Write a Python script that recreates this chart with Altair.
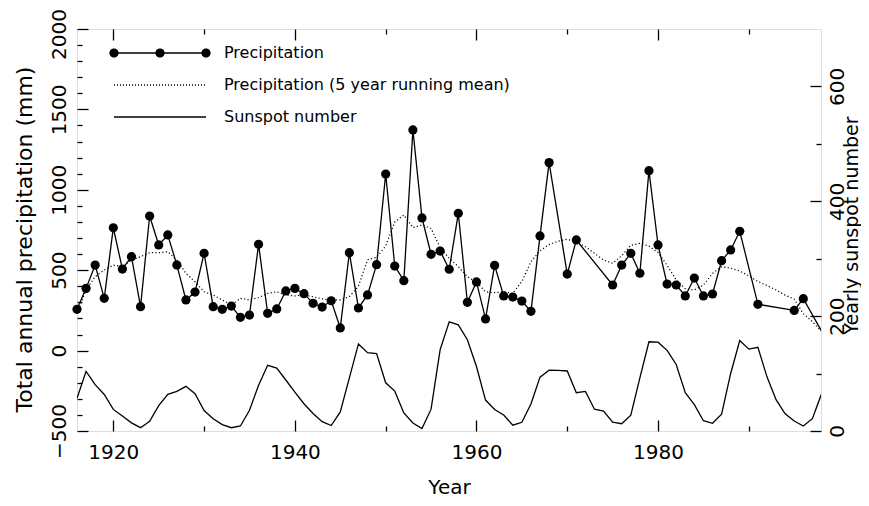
import math
import altair as alt
import pandas as pd

# ---------------- data ----------------
precip_years = list(range(1916, 1969)) + [1970, 1971] + list(range(1975, 1990)) + [1991, 1995, 1996, 1998]
precip_values = [
    257, 387, 532, 325, 764, 507, 584, 273, 837, 657,
    719, 532, 315, 364, 605, 273, 257, 277, 207, 221,
    661, 232, 259, 371, 387, 354, 294, 271, 310, 141,
    609, 265, 346, 534, 1098, 526, 435, 1372, 825, 599,
    619, 506, 854, 300, 427, 197, 530, 340, 333, 308,
    244, 713, 1169,
    476, 688,
    408, 532, 605, 481, 1119, 657, 414, 408, 340, 451, 340, 352, 559, 626, 742,
    288, 250, 323, 122,
]

mean_years = list(range(1916, 1999))
mean_values = [
    232, 377, 460, 501, 532, 522, 563, 584, 609, 609,
    615, 563, 481, 428, 366, 346, 315, 284, 325, 315,
    330, 356, 366, 345, 340, 346, 335, 322, 315, 315,
    335, 400, 565, 580, 650, 800, 843, 765, 781, 760,
    640, 574, 522, 460, 425, 366, 360, 366, 356, 430,
    553, 620, 660, 680, 692, 677, 646, 605, 563, 543,
    590, 655, 667, 650, 610, 530, 440, 385, 377, 408,
    480, 522, 512, 495, 465, 430, 405, 377, 345, 320,
    230, 180, 120,
]

sun_years = list(range(1916, 1999))
sun_values = [
    57.1, 103.9, 80.6, 63.6, 37.6, 26.1, 14.2, 5.8, 16.7, 44.3,
    63.9, 69.0, 77.8, 64.9, 35.7, 21.2, 11.1, 5.7, 8.7, 36.1,
    79.7, 114.4, 109.6, 88.8, 67.8, 47.5, 30.6, 16.3, 9.6, 33.2,
    92.6, 151.6, 136.3, 134.7, 83.9, 69.4, 31.5, 13.9, 4.4, 38.0,
    141.7, 190.2, 184.8, 159.0, 112.3, 53.9, 37.5, 27.9, 10.2, 15.1,
    47.0, 93.8, 105.9, 105.5, 104.5, 66.6, 68.9, 38.0, 34.5, 15.5,
    12.6, 27.5, 92.5, 155.4, 154.6, 140.4, 115.9, 66.6, 45.9, 17.9,
    13.4, 29.4, 100.2, 157.6, 142.6, 145.7, 94.3, 54.6, 29.9, 17.5,
    8.6, 21.5, 64.3,
]

series_names = ["Precipitation", "Precipitation (5 year running mean)", "Sunspot number"]

x_major = [1920, 1940, 1960, 1980]
x_minor = [1930, 1950, 1970, 1990]
y_left_major = [-500, 0, 500, 1000, 1500, 2000]
y_left_minor = [v for v in range(-400, 2000, 100) if v % 500 != 0]
y_right_major = [0, 200, 400, 600]
y_right_minor = [100, 300, 500]

# ---------------- tables ----------------
precip_df = pd.DataFrame({"year": precip_years, "value": precip_values})
mean_df = pd.DataFrame({"year": mean_years, "value": mean_values})
sun_df = pd.DataFrame({"year": sun_years, "value": sun_values})
legend_df = pd.DataFrame({"series": series_names})

# ---------------- styling ----------------
FONT = "DejaVu Sans"
W, H = 744, 402
LW = 1.3

xs = alt.Scale(domain=[1916, 1997.95], nice=False, zero=False)
ys_p = alt.Scale(domain=[-500, 2000], nice=False, zero=False)
ys_s = alt.Scale(domain=[0, 700], nice=False, zero=False)


def tick_axis(orient, values, size, offset):
    return alt.Axis(orient=orient, values=values, tickSize=size, offset=offset,
                    labels=False, domain=False, grid=False, title=None,
                    ticks=True, tickColor="black", tickWidth=LW)


def ring_path(cx, r, n=18):
    pts = [(cx + r * math.cos(2 * math.pi * k / n), r * math.sin(2 * math.pi * k / n)) for k in range(n)]
    return "M" + "L".join(f"{x:.3f},{y:.3f}" for x, y in pts) + "Z"


def dot_path(cx, r):
    # filled disc drawn with stroked concentric rings (legend symbols are stroked only)
    return "".join(ring_path(cx, rr) for rr in (0.05, 0.14, 0.24, 0.33, 0.40))


# legend symbol paths (unit = 10 px for symbolSize 400)
path_precip = "M-4.6,0H4.6" + "".join(dot_path(c, 0.45) for c in (-4.6, 0.0, 4.6))
path_dotted = "".join(f"M{-4.6 + 0.3 * k:.2f},0h0.1" for k in range(31))
path_solid = "M-4.6,0H4.6"

# ---------------- layers ----------------
line_p = alt.Chart(precip_df).mark_line(color="black", strokeWidth=LW, clip=True).encode(
    x=alt.X("year:Q", scale=xs, axis=alt.Axis(
        orient="bottom", values=x_major, ticks=False, tickSize=0, domain=False, grid=False,
        labelPadding=11, labelFont=FONT, labelFontSize=20, labelColor="black", format="d",
        labelAngle=0, labelFlush=False, labelOverlap=False,
        title="Year", titleFont=FONT, titleFontSize=20, titleFontWeight="normal", titleColor="black",
        titleX=372, titleY=62, titleAlign="center", titleBaseline="alphabetic")),
    y=alt.Y("value:Q", scale=ys_p, axis=alt.Axis(
        orient="left", values=y_left_major, ticks=False, tickSize=0, domain=False, grid=False,
        labelAngle=270, labelAlign="center", labelBaseline="alphabetic", labelPadding=12,
        labelOffset={"condition": {"test": "datum.value == 2000", "value": 5}, "value": 0},
        labelFont=FONT, labelFontSize=20, labelColor="black", format="d",
        labelFlush=False, labelOverlap=False,
        title="Total annual precipitation (mm)", titleFont=FONT, titleFontSize=22,
        titleFontWeight="normal", titleColor="black", titleAngle=270,
        titleX=-53, titleY=210, titleAlign="center", titleBaseline="middle")),
)

pts_p = alt.Chart(precip_df).transform_filter("datum.year <= 1997").mark_circle(
    size=85, color="black", opacity=1).encode(
    x=alt.X("year:Q", scale=xs, axis=tick_axis("top", x_major, 11, -H)),
    y=alt.Y("value:Q", scale=ys_p, axis=tick_axis("right", y_left_major, 11, -W)),
)

dotted = alt.Chart(mean_df).mark_line(color="black", strokeWidth=1.2, strokeDash=[1.2, 2.3], clip=True).encode(
    x=alt.X("year:Q", scale=xs, axis=tick_axis("top", x_minor, 5, -H)),
    y=alt.Y("value:Q", scale=ys_p, axis=tick_axis("right", y_left_minor, 5, -W)),
)

sun = alt.Chart(sun_df).mark_line(color="black", strokeWidth=LW, clip=True).encode(
    x=alt.X("year:Q", scale=xs, axis=tick_axis("bottom", x_major, 11, -H)),
    y=alt.Y("value:Q", scale=ys_s, axis=alt.Axis(
        orient="right", values=y_right_major, ticks=False, tickSize=0, domain=False, grid=False,
        labelAngle=270, labelAlign="center", labelBaseline="top", labelPadding=6,
        labelFont=FONT, labelFontSize=20, labelColor="black", format="d",
        labelFlush=False, labelOverlap=False,
        title="Yearly sunspot number", titleFont=FONT, titleFontSize=19,
        titleFontWeight="normal", titleColor="black", titleAngle=270,
        titleX=36, titleY=196, titleAlign="center", titleBaseline="alphabetic")),
)

sun_ticks1 = alt.Chart(sun_df).mark_line(opacity=0, clip=True).encode(
    x=alt.X("year:Q", scale=xs, axis=tick_axis("bottom", x_minor, 5, -H)),
    y=alt.Y("value:Q", scale=ys_s, axis=tick_axis("left", y_right_major, 11, -W)),
)

sun_ticks2 = alt.Chart(sun_df).mark_line(opacity=0, clip=True).encode(
    x=alt.X("year:Q", scale=xs, axis=None),
    y=alt.Y("value:Q", scale=ys_s, axis=tick_axis("left", y_right_minor, 5, -W)),
)

# invisible helper layer (placed outside the clipped plot) that only carries the legend
legend_layer = alt.Chart(legend_df).mark_point(
    filled=False, stroke="black", strokeWidth=LW, clip=True
).encode(
    x=alt.value(-100),
    y=alt.value(-100),
    shape=alt.Shape("series:N", scale=alt.Scale(domain=series_names,
                                                range=[path_precip, path_dotted, path_solid]),
                    legend=alt.Legend(
                        title=None, orient="none", legendX=72, legendY=13, direction="vertical",
                        labelFont=FONT, labelFontSize=16, labelColor="black", labelOffset=53,
                        labelLimit=0, symbolSize=400, symbolStrokeWidth=LW,
                        symbolStrokeColor="black", symbolOpacity=1,
                        rowPadding=13, padding=0)),
)

chart = alt.layer(
    line_p, pts_p, dotted, sun, sun_ticks1, sun_ticks2, legend_layer
).resolve_scale(
    y="independent"
).resolve_axis(
    x="independent", y="independent"
).properties(
    width=W, height=H,
    autosize=alt.AutoSizeParams(type="none"),
    padding={"left": 69, "top": 21, "right": 40, "bottom": 67},
    background="white",
).configure_view(
    stroke="black", strokeWidth=1.5
).configure(
    font=FONT
)

chart.save("out.html", embed_options={"renderer": "svg", "actions": False})
